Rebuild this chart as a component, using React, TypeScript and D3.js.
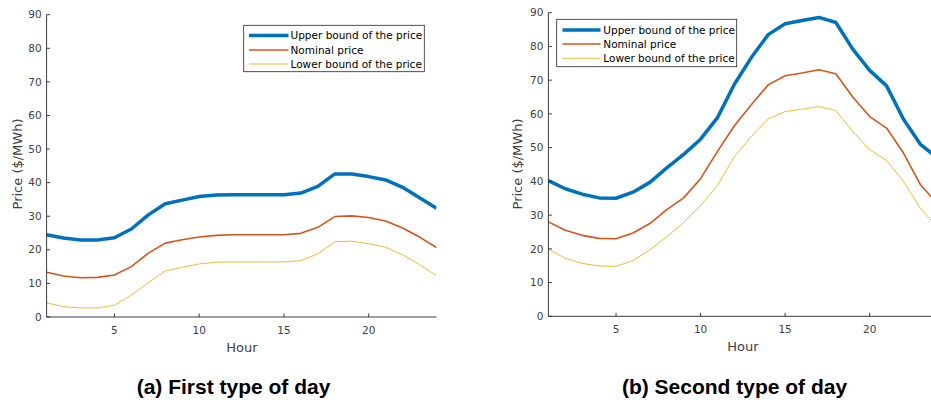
import React from "react";
import * as d3 from "d3";

const hours = d3.range(1, 25);
const dayAUpper = [24.5, 23.5, 22.9, 22.9, 23.6, 26.2, 30.4, 33.7, 34.8, 35.9, 36.3, 36.4, 36.4, 36.4, 36.4, 36.9, 38.9, 42.6, 42.6, 41.8, 40.8, 38.6, 35.5, 32.4];
const dayANominal = [13.3, 12.2, 11.7, 11.8, 12.5, 15.0, 19.0, 22.0, 23.0, 23.8, 24.3, 24.5, 24.5, 24.5, 24.5, 24.9, 26.7, 29.9, 30.1, 29.6, 28.6, 26.5, 23.8, 20.7];
const dayALower = [4.2, 3.1, 2.7, 2.7, 3.5, 6.6, 10.2, 13.7, 14.8, 15.8, 16.3, 16.4, 16.4, 16.4, 16.4, 16.8, 18.8, 22.4, 22.6, 21.8, 20.8, 18.5, 15.6, 12.3];
const dayBUpper = [40.2, 37.8, 36.2, 35.1, 35.0, 36.8, 39.7, 44.0, 48.0, 52.5, 58.9, 68.8, 76.7, 83.5, 86.7, 87.7, 88.6, 87.1, 79.2, 72.9, 68.3, 58.4, 51.0, 47.0];
const dayBNominal = [28.0, 25.5, 24.0, 23.1, 23.0, 24.7, 27.5, 31.6, 35.1, 40.8, 48.9, 56.5, 62.7, 68.6, 71.3, 72.1, 73.1, 71.9, 65.0, 59.2, 55.8, 48.4, 39.0, 33.5];
const dayBLower = [19.9, 17.2, 15.7, 14.9, 14.8, 16.5, 19.7, 23.6, 27.8, 32.8, 38.8, 47.4, 53.3, 58.5, 60.7, 61.4, 62.2, 61.0, 54.8, 49.4, 46.2, 40.0, 32.0, 26.5];

const seriesNames = ["Upper bound of the price", "Nominal price", "Lower bound of the price"];
const seriesColors = ["#0072BD", "#D95319", "#EDB120"];
const seriesWidths = [3.5, 1.6, 0.9];
const xTicks = [5, 10, 15, 20];
const yTicks = [0, 10, 20, 30, 40, 50, 60, 70, 80, 90];
const captions = ["(a) First type of day", "(b) Second type of day"];

const FONT = "'DejaVu Sans', sans-serif";
const AXIS = "#262626";

type PanelProps = {
  series: number[][];
  x0: number; x1: number; y0: number; y1: number;
  legend: { x: number; y: number; w: number; h: number; rows: number[]; sx0: number; sx1: number; tx: number };
  caption: string; captionX: number; hourX: number; labelX: number;
  clipId: string;
};

function Panel(p: PanelProps) {
  const x = d3.scaleLinear().domain([1, 24]).range([p.x0, p.x1]);
  const y = d3.scaleLinear().domain([0, 90]).range([p.y0, p.y1]);
  const line = d3.line<number>().x((_, i) => x(hours[i])).y((d) => y(d));
  const tickLen = 3.5;
  return (
    <g>
      <defs>
        <clipPath id={p.clipId}>
          <rect x={p.x0} y={0} width={p.x1 - p.x0} height={p.y0 + 2} />
        </clipPath>
      </defs>
      <g clipPath={`url(#${p.clipId})`}>
        {p.series.map((s, i) => (
          <path key={i} d={line(s) || ""} fill="none" stroke={seriesColors[i]} strokeWidth={seriesWidths[i]} strokeLinejoin="round" />
        ))}
      </g>
      {/* axes */}
      <line x1={p.x0} x2={p.x0} y1={y(90)} y2={y(0)} stroke={AXIS} strokeWidth={0.9} />
      <line x1={p.x0} x2={p.x1} y1={y(0)} y2={y(0)} stroke={AXIS} strokeWidth={0.9} />
      {yTicks.map((t) => (
        <g key={"y" + t}>
          <line x1={p.x0} x2={p.x0 + tickLen} y1={y(t)} y2={y(t)} stroke={AXIS} strokeWidth={0.9} />
          <text x={p.x0 - 5} y={y(t)} dy="0.35em" textAnchor="end" fontFamily={FONT} fontSize={10.5} fill="#404040">{t}</text>
        </g>
      ))}
      {xTicks.map((t) => (
        <g key={"x" + t}>
          <line x1={x(t)} x2={x(t)} y1={y(0)} y2={y(0) - tickLen} stroke={AXIS} strokeWidth={0.9} />
          <text x={x(t)} y={y(0) + 17} textAnchor="middle" fontFamily={FONT} fontSize={10.5} fill="#404040">{t}</text>
        </g>
      ))}
      <text x={p.hourX} y={y(0) + 34.5} textAnchor="middle" fontFamily={FONT} fontSize={13} fill="#404040">Hour</text>
      <text transform={`translate(${p.labelX},${164}) rotate(-90)`} textAnchor="middle" fontFamily={FONT} fontSize={13} fill="#404040">Price ($/MWh)</text>
      {/* legend */}
      <rect x={p.legend.x} y={p.legend.y} width={p.legend.w} height={p.legend.h} fill="#fff" stroke={AXIS} strokeWidth={0.8} />
      {seriesNames.map((n, i) => (
        <g key={n}>
          <line x1={p.legend.sx0} x2={p.legend.sx1} y1={p.legend.rows[i]} y2={p.legend.rows[i]} stroke={seriesColors[i]} strokeWidth={seriesWidths[i]} />
          <text x={p.legend.tx} y={p.legend.rows[i]} dy="0.35em" fontFamily={FONT} fontSize={10.5} fill="#000">{n}</text>
        </g>
      ))}
      <text x={p.captionX} y={394} textAnchor="middle" fontFamily="'Liberation Sans', Arial, sans-serif" fontWeight="bold" fontSize={21} fill="#000">{p.caption}</text>
    </g>
  );
}

export default function App() {
  return (
    <div style={{ position: "absolute", left: 0, top: 0 }}>
      <svg width={931} height={400} style={{ display: "block", background: "#fff" }}>
        <Panel
          series={[dayAUpper, dayANominal, dayALower]}
          x0={46.6} x1={436.5} y0={317} y1={14.7}
          legend={{ x: 243.7, y: 25.3, w: 180.6, h: 46.4, rows: [35.5, 50, 64], sx0: 249, sx1: 288.5, tx: 290.5 }}
          caption={captions[0]} captionX={233.5} hourX={242} labelX={21.5}
          clipId="clipA"
        />
        <Panel
          series={[dayBUpper, dayBNominal, dayBLower]}
          x0={548.4} x1={937.3} y0={316.3} y1={12.7}
          legend={{ x: 556.7, y: 19.3, w: 180, h: 47.4, rows: [30, 44, 58.3], sx0: 562.5, sx1: 600.5, tx: 603.3 }}
          caption={captions[1]} captionX={734.5} hourX={743} labelX={521.5}
          clipId="clipB"
        />
      </svg>
    </div>
  );
}
